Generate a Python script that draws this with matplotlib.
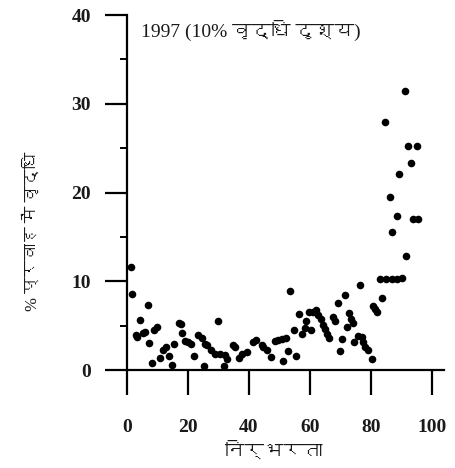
import matplotlib
matplotlib.use("Agg")
import matplotlib.pyplot as plt
from matplotlib import font_manager
from matplotlib.ft2font import FT2Font

# निर्भरता (x) और % प्रवाह में वृद्धि (y), 1997
dependence = [1.3, 1.7, 6.8, 4.3, 3.0, 3.3, 5.4, 5.9, 7.3, 8.3, 9.0, 9.7, 10.8, 11.9,
              12.7, 13.9, 14.6, 15.5, 17.2, 17.6, 18.1, 19.0, 20.1, 20.9, 22.0, 23.4,
              24.5, 25.6, 25.4, 26.1, 27.5, 28.9, 30.5, 29.9, 32.1, 32.9, 31.9, 34.9,
              35.4, 36.6, 37.8, 39.2, 41.4, 42.4, 44.2, 44.7, 45.8, 47.3, 48.5, 49.6,
              50.7, 51.3, 52.1, 52.9, 53.5, 54.8, 55.4, 56.4, 57.3, 58.4, 58.7, 59.7,
              60.3, 61.1, 61.9, 62.7, 63.5, 64.4, 64.9, 65.5, 66.3, 67.6, 68.2, 69.1,
              69.8, 70.6, 71.5, 72.0, 72.9, 73.4, 74.2, 74.4, 75.8, 76.3, 76.9, 77.5,
              78.0, 79.1, 80.2, 80.8, 81.3, 81.9, 83.0, 83.5, 84.9, 86.8, 88.4, 90.1,
              84.6, 86.2, 86.8, 88.4, 89.3, 91.1, 91.5, 92.2, 93.1, 93.7, 95.0, 95.5]
growth = [11.6, 8.55, 7.3, 5.6, 4.0, 3.7, 4.2, 4.3, 3.0, 0.75, 4.5, 4.8, 1.4, 2.3,
          2.6, 1.6, 0.56, 2.9, 5.3, 5.2, 4.2, 3.3, 3.1, 2.9, 1.6, 4.0,
          3.6, 2.9, 0.45, 2.8, 2.3, 1.85, 1.75, 5.5, 1.65, 1.2, 0.5, 2.8,
          2.6, 1.35, 1.75, 2.0, 3.2, 3.4, 2.8, 2.6, 2.25, 1.5, 3.3, 3.4,
          3.5, 1.05, 3.6, 2.1, 8.9, 4.5, 1.6, 6.3, 4.1, 4.7, 5.5, 6.5,
          4.5, 6.5, 6.8, 6.2, 5.7, 5.1, 4.6, 4.1, 3.6, 6.0, 5.5, 7.5,
          2.15, 3.5, 8.4, 4.9, 6.4, 5.8, 5.3, 3.1, 3.8, 9.6, 3.7, 3.1,
          2.6, 2.2, 1.2, 7.2, 6.85, 6.5, 10.25, 8.1, 10.2, 10.25, 10.25, 10.4,
          28.0, 19.5, 15.6, 17.3, 22.1, 31.4, 12.8, 25.2, 23.3, 17.0, 25.2, 17.0]

x_ticks = [0, 20, 40, 60, 80, 100]
y_ticks = [0, 10, 20, 30, 40]
title = "1997 (10% वृद्धि दृश्य)"
xlabel = "निर्भरता"
ylabel = "% प्रवाह में वृद्धि"


# देवनागरी वाला फ़ॉन्ट ढूँढें
def find_deva():
    for f in font_manager.fontManager.ttflist:
        try:
            if 0x0928 in FT2Font(f.fname).get_charmap():
                return f.name
        except Exception:
            pass
    return None


deva = find_deva()
hindi_family = ["Liberation Serif", deva] if deva else ["Liberation Serif", "DejaVu Sans"]

fig = plt.figure(figsize=(4.56, 4.68), dpi=100)
ax = fig.add_axes([0.2785, 0.2094, 0.6956, 0.7585])

ax.scatter(dependence, growth, s=30, color="black", linewidths=0, zorder=3)

ax.set_xlim(0, 104)
ax.set_ylim(0, 40)
ax.spines["top"].set_visible(False)
ax.spines["right"].set_visible(False)
ax.spines["left"].set_linewidth(1.6)
ax.spines["bottom"].set_linewidth(1.6)

ax.set_xticks(x_ticks)
ax.set_yticks(y_ticks)
ax.set_yticks([5, 15, 25, 35], minor=True)
ax.tick_params(axis="x", direction="out", length=18, width=1.6, pad=17)
ax.tick_params(axis="y", which="major", direction="out", length=16, width=1.6, pad=10)
ax.tick_params(axis="y", which="minor", direction="out", length=5, width=1.4)
for lab in ax.get_xticklabels() + ax.get_yticklabels():
    lab.set_fontfamily("Liberation Serif")
    lab.set_fontweight("bold")
    lab.set_fontsize(14)
    lab.set_color("#1a1a1a")

ax.text(0.045, 0.985, title, transform=ax.transAxes, ha="left", va="top",
        fontsize=14, family=hindi_family, color="#1a1a1a")
fig.text(0.6, 0.035, xlabel, ha="center", va="center", fontsize=14,
         family=hindi_family, color="#1a1a1a")
fig.text(0.07, 0.505, ylabel, ha="center", va="center", rotation=90, fontsize=12,
         family=hindi_family, color="#1a1a1a")

fig.savefig("out.png", dpi=100)
